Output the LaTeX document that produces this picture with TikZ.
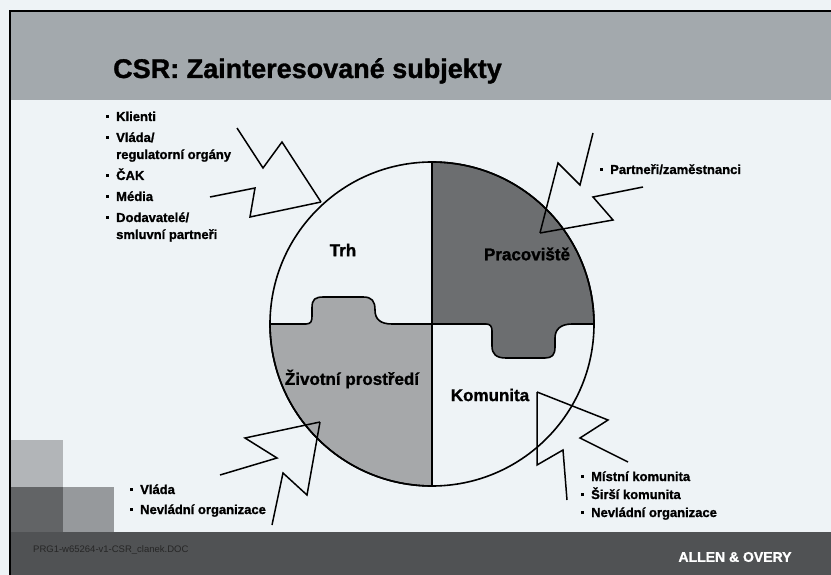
\documentclass[tikz,border=0pt]{standalone}
\usepackage{fontspec}
\setmainfont[BoldFeatures={FakeBold=1.2}]{Liberation Sans}
\usepackage{xcolor}

\definecolor{paper}{RGB}{238,243,246}
\definecolor{bandgray}{RGB}{163,169,173}
\definecolor{footgray}{RGB}{80,82,84}
\definecolor{darkpiece}{RGB}{108,110,112}
\definecolor{lightpiece}{RGB}{166,168,170}
\definecolor{sqlight}{RGB}{178,181,184}
\definecolor{sqdark}{RGB}{98,100,102}
\definecolor{sqmid}{RGB}{150,153,156}

\newcommand{\bul}{\makebox[10pt][l]{\raisebox{3pt}{\rule{3pt}{3pt}}}}
\newcommand{\ind}{\hspace*{10pt}}
\newcommand{\stack}[1]{\begin{tabular}[t]{@{}l@{}}#1\end{tabular}}

\begin{document}
\begin{tikzpicture}[x=1pt, y=-1pt, every node/.style={font=\bfseries},
  rim/.style={line width=1.6pt, line join=round},
  bolt/.style={line width=1.5pt, line join=miter},
  sector/.style={font=\fontsize{17}{20}\selectfont\bfseries},
  items/.style={font=\fontsize{13}{17}\selectfont\bfseries, anchor=base west, inner sep=0pt}]
\useasboundingbox (0,0) rectangle (831,575);
\fill[paper] (0,0) rectangle (831,575);
% slide frame
\fill[bandgray] (10,11) rectangle (831,100);
\fill[footgray] (10,532) rectangle (831,575);
\fill[sqlight] (10,440) rectangle (63,487);
\fill[sqdark] (10,487) rectangle (63,532);
\fill[sqmid] (63,487) rectangle (114,532);
\draw[line width=1.5pt] (10,575) -- (10,11) -- (831,11);

\node[font=\fontsize{27}{30}\selectfont\bfseries, anchor=base west, inner sep=0pt] (title) at (113,78) {CSR: Zainteresované subjekty};

% wheel
\coordinate (c) at (432,324);
\filldraw[fill=darkpiece, draw=black, rim] (c) -- (432,162) arc[start angle=-90, end angle=0, radius=162]
  -- (572,324) .. controls (560,324) and (555,330) .. (555,338) -- (555,347)
  .. controls (555,355) and (552,358) .. (545,358) -- (506,358)
  .. controls (496,358) and (492,354) .. (492,346) -- (492,331)
  .. controls (492,326) and (490,324) .. (486,324) -- cycle;
\filldraw[fill=lightpiece, draw=black, rim] (c) -- (432,486) arc[start angle=90, end angle=180, radius=162]
  -- (306,324) .. controls (311,324) and (312,321) .. (312,316) -- (312,308)
  .. controls (312,299) and (315,297) .. (324,297) -- (363,297)
  .. controls (372,297) and (375,301) .. (375,310)
  .. controls (375,319) and (380,324) .. (392,324) -- cycle;
\draw[rim] (c) circle[radius=162];

\node[sector] (trh) at (343,250) {Trh};
\node[sector] (pracoviste) at (527,254) {Pracoviště};
\node[sector] (zivotni) at (352,379) {Životní prostředí};
\node[sector] (komunita) at (490,395) {Komunita};

% stakeholders
\node[items] (trhlist) at (106,121) {\stack{\bul Klienti\\[4pt]
  \bul Vláda/\\ \ind regulatorní orgány\\[4pt]
  \bul ČAK\\[4pt] \bul Média\\[4pt]
  \bul Dodavatelé/\\ \ind smluvní partneři}};
\node[items] (pracolist) at (600,174) {\bul Partneři/zaměstnanci};
\node[items] (zivolist) at (130,494) {\stack{\bul Vláda\\[3pt] \bul Nevládní organizace}};
\node[items] (komulist) at (581,481) {\stack{\bul Místní komunita\\[1pt] \bul Širší komunita\\[1pt] \bul Nevládní organizace}};

% lightning arrows
\coordinate (trh-in) at (321,202);
\coordinate (trh-a) at (237,128);
\coordinate (trh-b) at (210,197);
\coordinate (praco-in) at (540,233);
\coordinate (praco-a) at (593,133);
\coordinate (praco-b) at (643,187);
\coordinate (zivo-in) at (320,422);
\coordinate (zivo-a) at (220,475);
\coordinate (zivo-b) at (272,525);
\coordinate (komu-in) at (537,392);
\coordinate (komu-a) at (628,462);
\coordinate (komu-b) at (567,500);
\draw[bolt] (trh-a) -- (263,168) -- (282,142) -- (trh-in);
\draw[bolt] (trh-b) -- (255,188) -- (250,217) -- (trh-in);
\draw[bolt] (praco-a) -- (580,185) -- (558,163) -- (praco-in);
\draw[bolt] (praco-b) -- (593,197) -- (613,220) -- (praco-in);
\draw[bolt] (zivo-a) -- (277,458) -- (245,438) -- (zivo-in);
\draw[bolt] (zivo-b) -- (283,473) -- (307,495) -- (zivo-in);
\draw[bolt] (komu-a) -- (580,438) -- (608,420) -- (komu-in);
\draw[bolt] (komu-b) -- (563,450) -- (537,465) -- (komu-in);

\node[font=\fontsize{9.5}{11}\selectfont, text=black!85, anchor=west, inner sep=0pt] (docref) at (33,550) {PRG1-w65264-v1-CSR\_clanek.DOC};
\node[font=\fontsize{14}{16}\selectfont\bfseries, text=white, inner sep=0pt] (brand) at (735,557) {ALLEN \& OVERY};
\end{tikzpicture}
\end{document}
